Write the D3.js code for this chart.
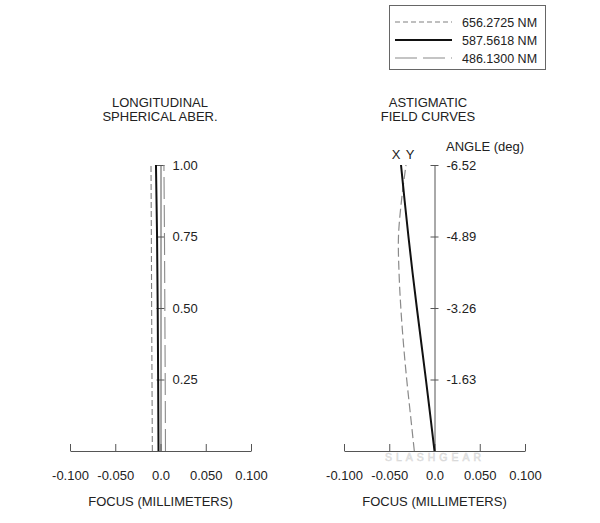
<!DOCTYPE html>
<html>
<head>
<meta charset="utf-8">
<script src="https://cdn.jsdelivr.net/npm/d3@7"></script>
<style>
  html, body { margin: 0; padding: 0; background: #fff; }
  svg { display: block; }
  text { font-family: "Liberation Sans", Arial, sans-serif; fill: #222; }
</style>
</head>
<body>
<div id="chart"></div>
<script>
// ---- Data ----
const wavelengths = ["656.2725 NM", "587.5618 NM", "486.1300 NM"];
const focusTicks = [-0.1, -0.05, 0, 0.05, 0.1];
const focusTickLabels = ["-0.100", "-0.050", "0.0", "0.050", "0.100"];

// Longitudinal spherical aberration (pupil height vs focus shift, mm)
const pupil = [0, 0.25, 0.5, 0.75, 1.0];
const lsa656 = [-0.0090, -0.0094, -0.0098, -0.0101, -0.0105];
const lsa587 = [-0.0022, -0.0026, -0.0031, -0.0038, -0.0050];
const lsa486 = [0.0055, 0.0052, 0.0048, 0.0044, 0.0038];
const pupilTicks = [0.25, 0.5, 0.75, 1.0];
const pupilTickLabels = ["0.25", "0.50", "0.75", "1.00"];

// Astigmatic field curves (field angle vs focus, mm)
const angles = [0, 0.815, 1.63, 2.445, 3.26, 4.075, 4.89, 5.705, 6.52];
const fieldX = [0, -0.0047, -0.0095, -0.0145, -0.0195, -0.0243, -0.0288, -0.0330, -0.0370];
const fieldY = [-0.0223, -0.0265, -0.0307, -0.0343, -0.0372, -0.0392, -0.0398, -0.0365, -0.0315];
const angleTicks = [1.63, 3.26, 4.89, 6.52];
const angleTickLabels = ["-1.63", "-3.26", "-4.89", "-6.52"];

// ---- Drawing ----
const W = 600, H = 523;
const svg = d3.select("#chart").append("svg").attr("width", W).attr("height", H);

const styles = [
  { color: "#808080", width: 1.1, dash: "5,3" },
  { color: "#111", width: 2, dash: null },
  { color: "#8a8a8a", width: 1.1, dash: "22,6" }
];

// Legend
const leg = svg.append("g");
leg.append("rect").attr("x", 389.5).attr("y", 5.5).attr("width", 156).attr("height", 64)
  .attr("fill", "#fff").attr("stroke", "#666").attr("stroke-width", 1);
wavelengths.forEach((w, i) => {
  const y = 22 + i * 18;
  leg.append("line").attr("x1", 395).attr("x2", 452).attr("y1", y).attr("y2", y)
    .attr("stroke", styles[i].color).attr("stroke-width", styles[i].width)
    .attr("stroke-dasharray", styles[i].dash);
  leg.append("text").attr("x", 462).attr("y", y + 4.5).attr("font-size", 12.5).text(w);
});

function xAxis(g, scale, y0) {
  const ax = d3.axisBottom(scale).tickValues(focusTicks)
    .tickFormat((d, i) => focusTickLabels[i]).tickSizeInner(-7).tickSizeOuter(0).tickPadding(20);
  g.attr("transform", `translate(0,${y0})`).call(ax);
  g.select(".domain").attr("stroke", "#555");
  g.selectAll(".tick line").attr("stroke", "#555");
  g.selectAll(".tick text").attr("font-size", 13).attr("fill", "#222")
    .attr("font-family", "Liberation Sans, Arial, sans-serif");
}

function yAxis(g, scale, x0, vals, labels) {
  const ax = d3.axisRight(scale).tickValues(vals)
    .tickFormat((d, i) => labels[i]).tickSizeInner(4).tickSizeOuter(0).tickPadding(8);
  g.attr("transform", `translate(${x0},0)`).call(ax);
  g.select(".domain").attr("stroke", "#555");
  g.selectAll(".tick line").attr("x1", -4).attr("x2", 4).attr("stroke", "#555");
  g.selectAll(".tick text").attr("font-size", 13).attr("fill", "#222")
    .attr("font-family", "Liberation Sans, Arial, sans-serif");
}

// ---- Left: Longitudinal spherical aberration ----
const xL = d3.scaleLinear().domain([-0.1, 0.1]).range([70, 251]);
const yL = d3.scaleLinear().domain([0, 1]).range([451, 165]);

svg.append("text").attr("x", 160).attr("y", 107).attr("text-anchor", "middle").attr("font-size", 13).text("LONGITUDINAL");
svg.append("text").attr("x", 160).attr("y", 121).attr("text-anchor", "middle").attr("font-size", 13).text("SPHERICAL ABER.");

yAxis(svg.append("g"), yL, xL(0), pupilTicks, pupilTickLabels);
xAxis(svg.append("g"), xL, 451);

const lineL = d3.line().x(d => xL(d[0])).y(d => yL(d[1]));
[lsa656, lsa587, lsa486].forEach((arr, i) => {
  svg.append("path").datum(arr.map((v, k) => [v, pupil[k]]))
    .attr("d", lineL).attr("fill", "none")
    .attr("stroke", styles[i].color).attr("stroke-width", styles[i].width)
    .attr("stroke-dasharray", i === 0 ? "6,3" : styles[i].dash);
});

svg.append("text").attr("x", xL(0)).attr("y", 506).attr("text-anchor", "middle").attr("font-size", 13).text("FOCUS (MILLIMETERS)");

// ---- Right: Astigmatic field curves ----
const xR = d3.scaleLinear().domain([-0.1, 0.1]).range([344, 525]);
const yR = d3.scaleLinear().domain([0, 6.52]).range([451, 165]);

svg.append("text").attr("x", 428).attr("y", 107).attr("text-anchor", "middle").attr("font-size", 13).text("ASTIGMATIC");
svg.append("text").attr("x", 428).attr("y", 121).attr("text-anchor", "middle").attr("font-size", 13).text("FIELD CURVES");
svg.append("text").attr("x", 446).attr("y", 151).attr("font-size", 13).text("ANGLE (deg)");

// watermark
svg.append("text").attr("x", 435).attr("y", 461).attr("text-anchor", "middle")
  .attr("font-family", "DejaVu Sans, sans-serif").attr("font-size", 10.5)
  .attr("letter-spacing", 4).style("fill", "#ececec").attr("stroke", "#d6d6d6").attr("stroke-width", 0.5)
  .text("SLASHGEAR");

yAxis(svg.append("g"), yR, xR(0), angleTicks, angleTickLabels);
xAxis(svg.append("g"), xR, 451);

const lineR = d3.line().x(d => xR(d[0])).y(d => yR(d[1])).curve(d3.curveCatmullRom);
svg.append("path").datum(fieldY.map((v, k) => [v, angles[k]]))
  .attr("d", lineR).attr("fill", "none").attr("stroke", "#8a8a8a").attr("stroke-width", 1.2)
  .attr("stroke-dasharray", "9,4");
svg.append("path").datum(fieldX.map((v, k) => [v, angles[k]]))
  .attr("d", lineR).attr("fill", "none").attr("stroke", "#111").attr("stroke-width", 2);

svg.append("text").attr("x", 396).attr("y", 159).attr("text-anchor", "middle").attr("font-size", 13).text("X");
svg.append("text").attr("x", 410).attr("y", 159).attr("text-anchor", "middle").attr("font-size", 13).text("Y");

svg.append("text").attr("x", xR(0)).attr("y", 506).attr("text-anchor", "middle").attr("font-size", 13).text("FOCUS (MILLIMETERS)");
</script>
</body>
</html>
